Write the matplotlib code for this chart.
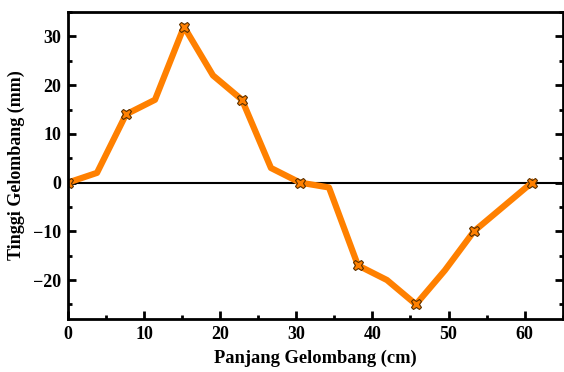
import numpy as np
import matplotlib
matplotlib.use("Agg")
import matplotlib.pyplot as plt
from matplotlib.ticker import MultipleLocator

# wave profile
panjang = [0, 3.81, 7.62, 11.43, 15.24, 19.05, 22.86, 26.67, 30.48,
           34.29, 38.1, 41.91, 45.72, 49.53, 53.34, 57.15, 60.96]
tinggi = [0, 2, 14, 17, 32, 22, 17, 3, 0, -1, -17, -20, -25, -18, -10, -5, 0]

plt.rcParams['font.family'] = ['Liberation Serif', 'DejaVu Serif']
plt.rcParams['font.weight'] = 'bold'

fig = plt.figure(figsize=(5.64, 3.72), dpi=100)
ax = fig.add_axes([0.1206, 0.1425, 0.877, 0.825])

ax.axhline(0, color='black', lw=1.5, zorder=1)
ax.plot(panjang, tinggi, color='#ff8000', lw=4.5, marker='X', markersize=7.5,
        markerfacecolor='#ff8000', markeredgecolor='#5a3000', markeredgewidth=0.8,
        markevery=2, zorder=2)

ax.set_xlim(0, 65)
ax.set_ylim(-28, 35)
ax.xaxis.set_major_locator(MultipleLocator(10))
ax.xaxis.set_minor_locator(MultipleLocator(5))
ax.yaxis.set_major_locator(MultipleLocator(10))
ax.yaxis.set_minor_locator(MultipleLocator(5))
ax.tick_params(which='both', direction='in', right=True, top=False,
               width=2, labelsize=13)
ax.tick_params(which='major', length=6, pad=5)
ax.tick_params(which='minor', length=3)
for s in ax.spines.values():
    s.set_linewidth(2)

ax.set_xlabel('Panjang Gelombang (cm)', fontsize=13.3, fontweight='bold', labelpad=5)
ax.set_ylabel('Tinggi Gelombang (mm)', fontsize=13, fontweight='bold', labelpad=6)

fig.savefig('out.png', dpi=100)
